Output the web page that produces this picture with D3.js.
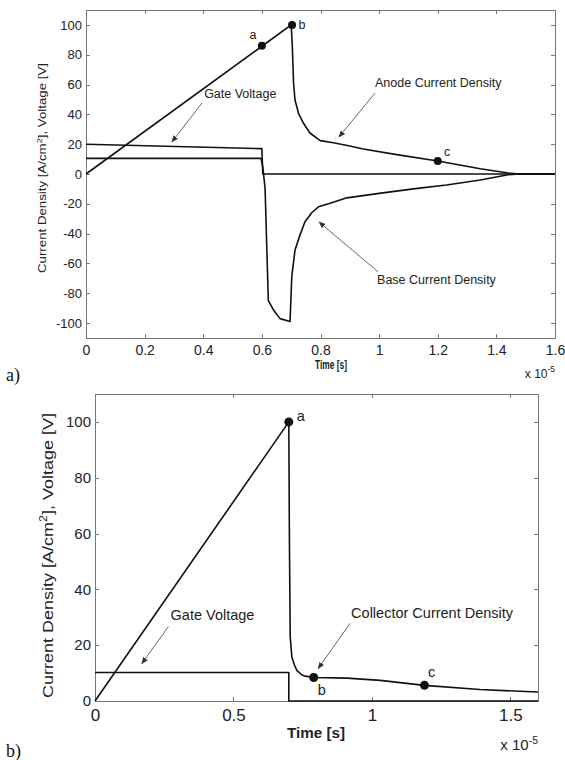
<!DOCTYPE html>
<html lang="en">

<head>
  <meta charset="utf-8">
  <script src="https://cdn.jsdelivr.net/npm/d3@7/dist/d3.min.js"></script>

  <style>
    body {
      margin: 0;
      background: #fff;
      font-family: Arial, "Liberation Sans", sans-serif;
    }

    .axis path {
      display: none;
    }

    .axis line {
      stroke: #777;
      shape-rendering: crispEdges;
    }

    .axis text {
      fill: #222;
      font-family: Arial, "Liberation Sans", sans-serif;
    }

    .frame {
      fill: none;
      stroke: #777;
      shape-rendering: crispEdges;
    }

    .series {
      fill: none;
      stroke: #111;
      stroke-width: 1.6;
      stroke-linejoin: round;
    }

    .note {
      fill: #222;
    }

    .arrow {
      stroke: #555;
      stroke-width: 0.9;
    }

    .panel {
      font-family: "Liberation Serif", "Times New Roman", serif;
      fill: #111;
    }
  </style>
</head>

<body>
  <svg id="chart" width="565" height="760"></svg>

  <script>
    // panel a) -- time in units of 1e-5 s
    var gateTimeA = [0, 0.6, 0.603, 1.6];
    var gateVoltA = [20, 17, 0, 0];
    var anodeTimeA = [0, 0.6, 0.7, 0.704, 0.708, 0.713, 0.725, 0.742, 0.764, 0.799, 0.844, 0.9, 0.946, 1.06, 1.2, 1.345, 1.44, 1.48, 1.6];
    var anodeA = [0, 85.7, 100, 85, 61, 49.6, 40.7, 34, 27.5, 22.4, 21, 18.8, 16.8, 13, 8.7, 3.5, 0.7, 0, 0];
    var baseTimeA = [0, 0.597, 0.603, 0.611, 0.622, 0.639, 0.662, 0.696, 0.702, 0.713, 0.73, 0.747, 0.77, 0.793, 0.833, 0.89, 1.0, 1.117, 1.23, 1.345, 1.44, 1.48, 1.6];
    var baseA = [10.5, 10.5, 5, -10, -85, -91, -97, -99, -69, -51, -41, -32, -26, -22, -19.6, -16, -13, -10, -7.4, -4, -0.5, 0, 0];
    var markTimeA = [0.6, 0.703, 1.2];
    var markValA = [86, 100, 8.7];
    var xTicksA = [0, 0.2, 0.4, 0.6, 0.8, 1, 1.2, 1.4, 1.6];
    var yTicksA = [-100, -80, -60, -40, -20, 0, 20, 40, 60, 80, 100];

    // panel b)
    var gateTimeB = [0, 0.7, 0.7, 1.6];
    var gateVoltB = [10.2, 10.2, 0, 0];
    var collTimeB = [0, 0.7, 0.702, 0.705, 0.711, 0.72, 0.729, 0.745, 0.759, 0.79, 0.91, 1.03, 1.19, 1.39, 1.6];
    var collB = [0, 100, 60, 23, 15.8, 13, 11, 9.5, 8.9, 8.4, 8.2, 7.4, 5.6, 4.1, 3.2];
    var markTimeB = [0.7, 0.79, 1.19];
    var markValB = [100, 8.4, 5.6];
    var xTicksB = [0, 0.5, 1, 1.5];
    var yTicksB = [0, 20, 40, 60, 80, 100];

    var svg = d3.select('#chart');

    function zip(ts, vs) {
      return ts.map(function (t, i) { return [t, vs[i]]; });
    }

    // plain hyphen minus, like the MATLAB labels
    function plain(d) { return String(d); }

    function panel(opt) {
      var x = d3.scaleLinear().domain(opt.xDomain).range([opt.left, opt.right]);
      var y = d3.scaleLinear().domain(opt.yDomain).range([opt.bottom, opt.top]);
      var g = svg.append('g');

      g.append('rect')
        .attr('class', 'frame')
        .attr('x', opt.left + 0.5)
        .attr('y', opt.top + 0.5)
        .attr('width', opt.right - opt.left)
        .attr('height', opt.bottom - opt.top);

      // MATLAB style: inward ticks on all four sides
      g.append('g')
        .attr('class', 'axis')
        .attr('transform', 'translate(' + opt.left + ',0)')
        .call(d3.axisLeft(y).tickValues(opt.yTicks).tickSizeInner(-4).tickSizeOuter(0).tickPadding(4).tickFormat(plain))
        .selectAll('text').style('font-size', opt.yFont + 'px');

      g.append('g')
        .attr('class', 'axis')
        .attr('transform', 'translate(' + opt.right + ',0)')
        .call(d3.axisRight(y).tickValues(opt.yTicks).tickSizeInner(-4).tickSizeOuter(0).tickFormat(''));

      g.append('g')
        .attr('class', 'axis')
        .attr('transform', 'translate(0,' + opt.bottom + ')')
        .call(d3.axisBottom(x).tickValues(opt.xTicks).tickSizeInner(-4).tickSizeOuter(0).tickPadding(opt.xPad).tickFormat(plain))
        .selectAll('text').style('font-size', opt.xFont + 'px');

      g.append('g')
        .attr('class', 'axis')
        .attr('transform', 'translate(0,' + opt.top + ')')
        .call(d3.axisTop(x).tickValues(opt.xTicks).tickSizeInner(-4).tickSizeOuter(0).tickFormat(''));

      var line = d3.line()
        .x(function (d) { return x(d[0]); })
        .y(function (d) { return y(d[1]); });

      opt.series.forEach(function (s) {
        g.append('path')
          .attr('class', 'series')
          .attr('d', line(s));
      });

      g.selectAll('.dot')
        .data(opt.marks)
        .enter().append('circle')
        .attr('class', 'dot')
        .attr('cx', function (d) { return x(d[0]); })
        .attr('cy', function (d) { return y(d[1]); })
        .attr('r', opt.dotR)
        .attr('fill', '#111');

      opt.letters.forEach(function (l) {
        g.append('text')
          .attr('class', 'note')
          .attr('x', x(l.t))
          .attr('y', y(l.v))
          .attr('text-anchor', 'middle')
          .style('font-size', opt.noteFont + 'px')
          .text(l.s);
      });

      opt.notes.forEach(function (n) {
        g.append('text')
          .attr('class', 'note')
          .attr('x', x(n.t))
          .attr('y', y(n.v))
          .style('font-size', opt.noteFont + 'px')
          .text(n.s);
        g.append('line')
          .attr('class', 'arrow')
          .attr('x1', x(n.a[0])).attr('y1', y(n.a[1]))
          .attr('x2', x(n.a[2])).attr('y2', y(n.a[3]))
          .attr('marker-end', 'url(#head)');
      });

      // axis label texts
      var yl = g.append('text')
        .attr('class', 'note')
        .attr('transform', 'translate(' + opt.yLabelX + ',' + ((opt.top + opt.bottom) / 2 + opt.yLabelShift) + ') rotate(-90)')
        .attr('text-anchor', 'middle')
        .style('font-size', opt.yLabelFont + 'px')
        .attr('textLength', opt.yLabelLen)
        .attr('lengthAdjust', 'spacingAndGlyphs');
      yl.append('tspan').text('Current Density [A/cm');
      yl.append('tspan').attr('baseline-shift', 'super').style('font-size', '0.7em').text('2');
      yl.append('tspan').text('], Voltage [V]');

      g.append('text')
        .attr('class', 'note')
        .attr('x', opt.xLabelX)
        .attr('y', opt.xLabelY)
        .attr('text-anchor', 'middle')
        .style('font-size', opt.xLabelFont + 'px')
        .style('font-weight', 'bold')
        .attr('textLength', opt.xLabelLen)
        .attr('lengthAdjust', 'spacingAndGlyphs')
        .text('Time [s]');

      var ex = g.append('text')
        .attr('class', 'note')
        .attr('x', opt.right)
        .attr('y', opt.expY)
        .attr('text-anchor', 'end')
        .style('font-size', opt.expFont + 'px');
      ex.append('tspan').text('x 10');
      ex.append('tspan').attr('dy', -6).style('font-size', (opt.expFont * 0.7) + 'px').text('-5');

      svg.append('text')
        .attr('class', 'panel')
        .attr('x', 6)
        .attr('y', opt.panelY)
        .style('font-size', '18px')
        .text(opt.panel);
    }

    svg.append('defs').append('marker')
      .attr('id', 'head')
      .attr('viewBox', '0 0 10 10')
      .attr('refX', 9).attr('refY', 5)
      .attr('markerWidth', 7).attr('markerHeight', 7)
      .attr('markerUnits', 'userSpaceOnUse')
      .attr('orient', 'auto')
      .append('path')
      .attr('d', 'M0,1 L10,5 L0,9 Z')
      .attr('fill', '#333');

    panel({
      left: 86, right: 555, top: 10, bottom: 338,
      xDomain: [0, 1.6], yDomain: [-110, 110],
      xTicks: xTicksA, yTicks: yTicksA,
      xFont: 14, yFont: 13, xPad: 7,
      series: [zip(gateTimeA, gateVoltA), zip(anodeTimeA, anodeA), zip(baseTimeA, baseA)],
      marks: zip(markTimeA, markValA), dotR: 4,
      noteFont: 12.5,
      letters: [{ s: 'a', t: 0.57, v: 90.6 }, { s: 'b', t: 0.737, v: 97.3 }, { s: 'c', t: 1.232, v: 12 }],
      notes: [
        { s: 'Gate Voltage', t: 0.403, v: 51, a: [0.396, 47.7, 0.293, 21.5] },
        { s: 'Anode Current Density', t: 0.986, v: 58.4, a: [0.986, 54.3, 0.863, 24.8] },
        { s: 'Base Current Density', t: 0.993, v: -73.8, a: [0.997, -65.7, 0.795, -32.2] }
      ],
      yLabelX: 46, yLabelShift: -6, yLabelFont: 11.5, yLabelLen: 210,
      xLabelX: 331, xLabelY: 369, xLabelFont: 12, xLabelLen: 32,
      expY: 378, expFont: 12,
      panel: 'a)', panelY: 381
    });

    panel({
      left: 95, right: 538, top: 394, bottom: 701,
      xDomain: [0, 1.6], yDomain: [0, 110],
      xTicks: xTicksB, yTicks: yTicksB,
      xFont: 17, yFont: 15, xPad: 8,
      series: [zip(gateTimeB, gateVoltB), zip(collTimeB, collB)],
      marks: zip(markTimeB, markValB), dotR: 4.5,
      noteFont: 14.5,
      letters: [{ s: 'a', t: 0.743, v: 100.5 }, { s: 'b', t: 0.819, v: 2 }, { s: 'c', t: 1.216, v: 8.5 }],
      notes: [
        { s: 'Gate Voltage', t: 0.273, v: 29, a: [0.265, 26.6, 0.169, 13.4] },
        { s: 'Collector Current Density', t: 0.925, v: 29.7, a: [0.921, 27.8, 0.806, 11.6] }
      ],
      yLabelX: 53, yLabelShift: 8, yLabelFont: 15, yLabelLen: 285,
      xLabelX: 316, xLabelY: 738, xLabelFont: 14, xLabelLen: 58,
      expY: 750, expFont: 15,
      panel: 'b)', panelY: 757
    });
  </script>
</body>

</html>
